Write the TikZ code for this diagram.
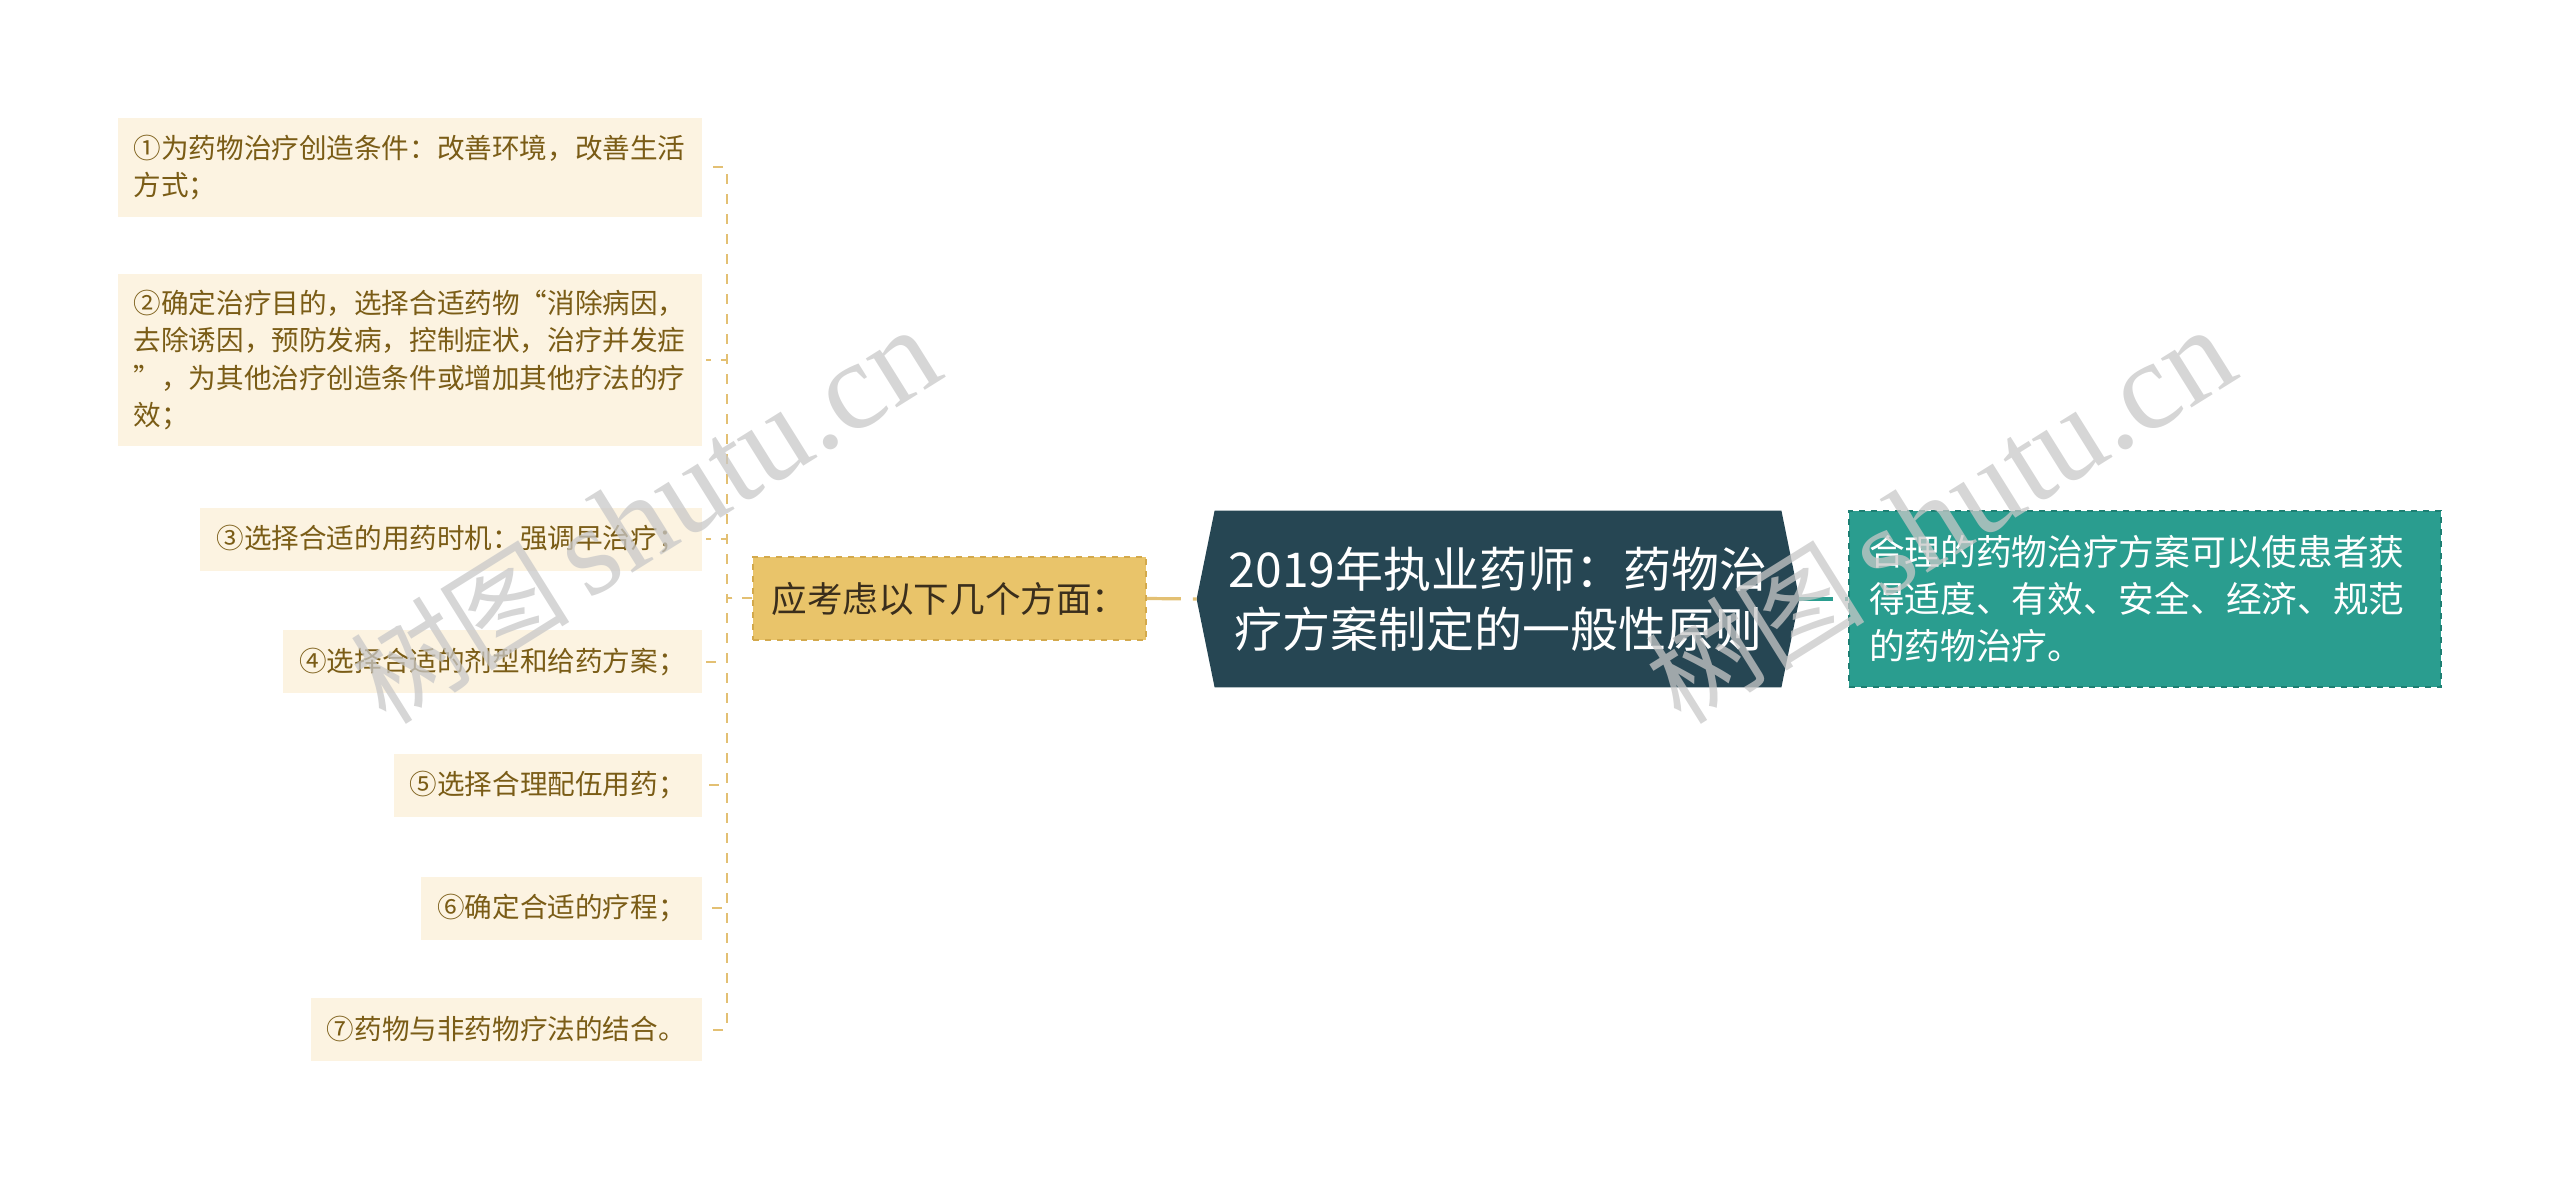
\documentclass[tikz,border=0pt]{standalone}
\usepackage{fontspec}
\setmainfont{Noto Sans CJK SC}
\newfontfamily\wmserif{Liberation Serif}
\usetikzlibrary{calc,backgrounds}
\definecolor{itemfill}{HTML}{FCF3E1}
\definecolor{itemtext}{HTML}{7A5C16}
\definecolor{gold}{HTML}{E9C46A}
\definecolor{golddark}{HTML}{D3A94C}
\definecolor{goldline}{HTML}{E3C073}
\definecolor{navy}{HTML}{264653}
\definecolor{teal}{HTML}{2A9D8F}
\definecolor{tealdark}{HTML}{1E7F73}
\definecolor{midtext}{HTML}{3A2E1C}
\definecolor{wmgray}{HTML}{C8C8C8}
\begin{document}
\begin{tikzpicture}[x=0.5pt,y=-0.5pt,
  item/.style={fill=itemfill, text=itemtext, font=\fontsize{13.8pt}{18.75pt}\selectfont,
    anchor=east, inner xsep=8pt, inner ysep=0pt, align=left, minimum height=31.5pt},
  midbox/.style={fill=gold, draw=golddark, dashed, line width=0.8pt, text=midtext,
    font=\fontsize{17.8pt}{22pt}\selectfont, minimum width=196.5pt, minimum height=41.5pt, inner sep=0pt},
  centralbox/.style={text=white, font=\fontsize{24pt}{30pt}\selectfont, align=center,
    minimum width=301pt, minimum height=88pt, inner sep=0pt},
  rightbox/.style={fill=teal, draw=tealdark, dashed, line width=0.8pt, text=white,
    font=\fontsize{17.85pt}{23.5pt}\selectfont, align=left, text width=276pt,
    inner xsep=10pt, inner ysep=0pt, minimum height=88pt},
  itemconn/.style={goldline, line width=1pt, dash pattern=on 5pt off 5pt},
  mainconn/.style={line width=1.6pt, dash pattern=on 17pt off 6pt},
  watermark/.style={text=wmgray, opacity=0.75, rotate=32, inner sep=0pt}
]
\useasboundingbox (0,0) rectangle (2560,1181);

% left items
\node[item, minimum height=49.5pt] (i1) at (702,167.5) {①为药物治疗创造条件：改善环境，改善生活\\方式；};
\node[item, minimum height=86pt] (i2) at (702,360) {②确定治疗目的，选择合适药物“消除病因，\\去除诱因，预防发病，控制症状，治疗并发症\\”，为其他治疗创造条件或增加其他疗法的疗\\效；};
\node[item] (i3) at (702,539.5) {③选择合适的用药时机：强调早治疗；};
\node[item] (i4) at (702,662) {④选择合适的剂型和给药方案；};
\node[item] (i5) at (702,785) {⑤选择合理配伍用药；};
\node[item] (i6) at (702,908) {⑥确定合适的疗程；};
\node[item] (i7) at (702,1029.5) {⑦药物与非药物疗法的结合。};

% middle
\node[midbox] (m) at (949.5,598.5) {应考虑以下几个方面：};

% central
\node[centralbox] (c) at (1498,599) {2019年执业药师：药物治\\疗方案制定的一般性原则};
\begin{pgfonlayer}{background}
\fill[navy] (c.west) -- ($(c.north west)+(18,0)$) -- ($(c.north east)+(-18,0)$) -- (c.east)
  -- ($(c.south east)+(-18,0)$) -- ($(c.south west)+(18,0)$) -- cycle;
\end{pgfonlayer}

% right
\node[rightbox] (r) at (2145,599) {合理的药物治疗方案可以使患者获\\得适度、有效、安全、经济、规范\\的药物治疗。};

% connectors
\coordinate (spine) at (727,598.5);
\foreach \k in {1,...,7}{
  \draw[itemconn, shorten >=2pt] (m.west) -- (spine) |- (i\k.east);
}
\draw[mainconn, goldline] (m.east) -- (c.west);
\draw[mainconn, teal] (c.east) -- (r.west);

% watermark
\node[watermark] (wm1) at (645,516) {\fontsize{55pt}{55pt}\selectfont 树图\,{\wmserif\fontsize{63pt}{63pt}\selectfont shutu.cn}};
\node[watermark] (wm2) at (1940,516) {\fontsize{55pt}{55pt}\selectfont 树图\,{\wmserif\fontsize{63pt}{63pt}\selectfont shutu.cn}};
\end{tikzpicture}
\end{document}
